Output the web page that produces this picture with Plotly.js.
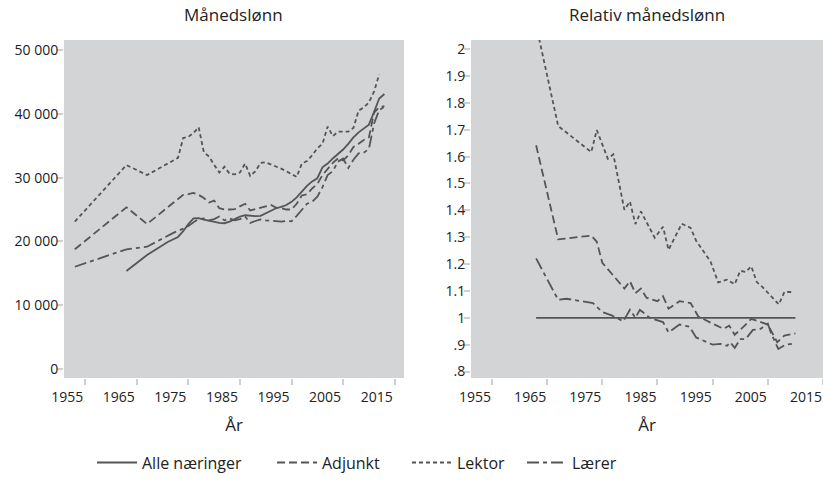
<!DOCTYPE html>
<html>
<head>
<meta charset="utf-8">
<script src="https://cdn.plot.ly/plotly-3.0.1.min.js"></script>
<style>html,body{margin:0;padding:0;background:#fff}#chart{width:823px;height:496px}</style>
</head>
<body>
<div id="chart"></div>
<script>
// ---- Left panel: Månedslønn (kroner) ----
const alleYears = [1963,1967,1971,1973,1974,1975,1976,1977,1978,1979,1980,1981,1982,1983,1984,1985,1986,1987,1988,1989,1990,1991,1992,1993,1994,1995,1996,1997,1998,1999,2000,2001,2002,2003,2004,2005,2006,2007,2008,2009,2010,2011,2012,2013];
const alleVals  = [15360,17870,19900,20700,21600,22700,23600,23650,23400,23200,23100,22900,22850,23100,23500,23900,24100,24000,23950,24000,24400,24800,25200,25400,25700,26200,26900,27800,28700,29400,29900,31600,32200,33000,33700,34400,35300,36300,37100,37700,38300,40300,42400,43100];

const lektorYears = [1953,1963,1967,1973,1974,1975,1976,1977,1978,1979,1980,1981,1982,1983,1984,1985,1986,1987,1988,1989,1990,1991,1992,1993,1994,1995,1996,1997,1998,1999,2000,2001,2002,2003,2004,2005,2006,2007,2008,2009,2010,2011,2012];
const lektorVals  = [23100,31970,30400,33100,36200,36400,37000,37900,34000,33300,32000,30800,31700,30600,30500,30800,32200,30250,31000,32300,32400,32100,31700,31400,31000,30600,30100,32200,32600,33500,34600,35300,38000,36500,37200,37200,37200,37800,40500,41000,41800,43500,46200];

const adjunktYears = [1953,1963,1967,1972,1974,1975,1976,1977,1978,1979,1980,1981,1982,1983,1984,1985,1986,1987,1988,1989,1990,1991,1992,1993,1994,1995,1996,1997,1998,1999,2000,2001,2002,2003,2004,2005,2006,2007,2008,2009,2010,2011,2012,2013];
const adjunktVals  = [18760,25340,22730,26000,27300,27400,27600,27300,26800,26100,26400,25200,25000,25000,25050,25500,25900,24850,25100,25300,25500,25700,25300,25200,25000,25000,25900,27200,27400,28300,29000,30400,31400,32300,33000,32700,33500,34800,35300,35900,36300,40200,41000,41200];

const laererYears = [1953,1963,1967,1972,1974,1975,1976,1977,1978,1979,1980,1981,1982,1983,1984,1985,1986,1987,1988,1989,1990,1991,1992,1993,1994,1995,1996,1997,1998,1999,2000,2001,2002,2003,2004,2005,2006,2007,2008,2009,2010,2011,2012,2013];
const laererVals  = [16030,18760,19170,21300,22000,22400,23000,23500,23600,23300,23500,23900,23300,23600,23300,23500,23900,22900,23200,23450,23300,23250,23200,23100,23200,23150,24000,25000,25900,26200,27000,28500,30400,31000,32500,33000,31500,32800,33800,33900,34500,38500,40600,41100];

// ---- Right panel: Relativ månedslønn ----
const refYears = [1963, 2010];
const refVals  = [1, 1];

const relLektorYears = [1963,1967,1973,1974,1976,1977,1979,1980,1981,1982,1984.5,1986,1987,1989.4,1991,1992,1994.6,1996,1997.6,1999,2000,2001,2002,2003,2004,2007,2008,2009.4];
const relLektorVals  = [2.09,1.714,1.617,1.699,1.592,1.608,1.402,1.433,1.349,1.396,1.298,1.339,1.253,1.350,1.335,1.287,1.21,1.132,1.142,1.125,1.175,1.171,1.192,1.133,1.115,1.05,1.096,1.096];

const relAdjunktYears = [1963,1967,1973,1974,1975,1979,1980,1981,1982,1983,1985,1986,1987,1989,1991,1992.4,1995,1997,1998,1999,2000.6,2002,2005,2006.7,2008,2010];
const relAdjunktVals  = [1.642,1.292,1.306,1.283,1.205,1.109,1.136,1.092,1.109,1.075,1.062,1.08,1.034,1.062,1.055,1.005,0.978,0.959,0.971,0.937,0.967,0.996,0.975,0.909,0.934,0.942];

const relLaererYears = [1963,1967,1968.5,1973.3,1975,1976.7,1978.8,1980,1981,1981.8,1983.6,1986,1987,1989,1990.8,1992,1995,1996.4,1997.6,1998.2,1999,2000,2001,2002.3,2003.7,2005,2005.6,2006.9,2008.2,2010];
const relLaererVals  = [1.221,1.067,1.071,1.055,1.021,1.009,0.987,1.03,1.0,1.03,1.0,0.984,0.946,0.975,0.967,0.927,0.9,0.903,0.896,0.909,0.888,0.921,0.921,0.955,0.959,0.978,0.942,0.884,0.9,0.905];

// ---- Tick labels ----
const xTickVals = [1955,1965,1975,1985,1995,2005,2015];
const xTickText = ['1955','1965','1975','1985','1995','2005','2015'];
const yLeftVals = [0,10000,20000,30000,40000,50000];
const yLeftText = ['0','10 000','20 000','30 000','40 000','50 000'];
const yRightVals = [0.8,0.9,1,1.1,1.2,1.3,1.4,1.5,1.6,1.7,1.8,1.9,2];
const yRightText = ['.8','.9','1','1.1','1.2','1.3','1.4','1.5','1.6','1.7','1.8','1.9','2'];

const seriesNames = ['Alle næringer','Adjunkt','Lektor','Lærer'];

const LC = '#555555';
const LW = 1.8;
const dashAlle = 'solid';
const dashAdj = '8px,4px';
const dashLek = '4px,3px';
const dashLae = '12px,4px,4px,4px';

const FONT = 'Open Sans, Noto Sans, DejaVu Sans, sans-serif';

const traces = [
  {x: alleYears, y: alleVals, name: seriesNames[0], mode:'lines', line:{color:LC,width:LW,dash:dashAlle}, xaxis:'x', yaxis:'y', legend:'legend'},
  {x: adjunktYears, y: adjunktVals, name: seriesNames[1], mode:'lines', line:{color:LC,width:LW,dash:dashAdj}, xaxis:'x', yaxis:'y', legend:'legend2'},
  {x: lektorYears, y: lektorVals, name: seriesNames[2], mode:'lines', line:{color:LC,width:LW,dash:dashLek}, xaxis:'x', yaxis:'y', legend:'legend3'},
  {x: laererYears, y: laererVals, name: seriesNames[3], mode:'lines', line:{color:LC,width:LW,dash:dashLae}, xaxis:'x', yaxis:'y', legend:'legend4'},
  {x: refYears, y: refVals, name: seriesNames[0], mode:'lines', line:{color:LC,width:LW,dash:dashAlle}, xaxis:'x2', yaxis:'y2', showlegend:false},
  {x: relAdjunktYears, y: relAdjunktVals, name: seriesNames[1], mode:'lines', line:{color:LC,width:LW,dash:dashAdj}, xaxis:'x2', yaxis:'y2', showlegend:false},
  {x: relLektorYears, y: relLektorVals, name: seriesNames[2], mode:'lines', line:{color:LC,width:LW,dash:dashLek}, xaxis:'x2', yaxis:'y2', showlegend:false},
  {x: relLaererYears, y: relLaererVals, name: seriesNames[3], mode:'lines', line:{color:LC,width:LW,dash:dashLae}, xaxis:'x2', yaxis:'y2', showlegend:false}
];

const W = 823;
const axCommon = {
  showgrid:false, zeroline:false, showline:false,
  ticks:'outside', ticklen:6, tickwidth:2, tickcolor:'#cfd0d2',
  tickfont:{family:FONT, size:14, color:'#222'}
};
function leg(xpx){
  return {orientation:'h', x:xpx/W, xanchor:'left', y:-0.2, yanchor:'top',
          font:{family:FONT, size:16, color:'#222'}, itemwidth:40, bgcolor:'rgba(0,0,0,0)'};
}

const layout = {
  width: W, height: 496,
  margin:{l:0, r:0, t:40, b:118},
  paper_bgcolor:'#ffffff',
  plot_bgcolor:'#d3d4d6',
  font:{family:FONT, color:'#222'},
  showlegend:true,
  legend: leg(92), legend2: leg(272), legend3: leg(407), legend4: leg(522),
  xaxis: Object.assign({}, axCommon, {
    domain:[64/W, 404/W], range:[1950.9, 2016.8],
    tickvals:xTickVals, ticktext:xTickText, ticklabelshift:-18,
    title:{text:'År', font:{family:FONT, size:17, color:'#222'}, standoff:14},
    anchor:'y'
  }),
  yaxis: Object.assign({}, axCommon, {
    domain:[0,1], range:[-1410, 51570], ticklabelstandoff:-4,
    tickvals:yLeftVals, ticktext:yLeftText, anchor:'x'
  }),
  xaxis2: Object.assign({}, axCommon, {
    domain:[471/W, 1], range:[1951.2, 2015.0],
    tickvals:xTickVals, ticktext:xTickText, ticklabelshift:-17,
    title:{text:'År', font:{family:FONT, size:17, color:'#222'}, standoff:14},
    anchor:'y2'
  }),
  yaxis2: Object.assign({}, axCommon, {
    domain:[0,1], range:[0.776, 2.034], ticklabelstandoff:-4,
    tickvals:yRightVals, ticktext:yRightText, anchor:'x2'
  }),
  annotations:[
    {text:'Månedslønn', xref:'paper', yref:'paper', x:(64+404)/2/W, y:1, xanchor:'center', yanchor:'bottom', showarrow:false, yshift:12, font:{family:FONT, size:17, color:'#222'}},
    {text:'Relativ månedslønn', xref:'paper', yref:'paper', x:(471+823)/2/W, y:1, xanchor:'center', yanchor:'bottom', showarrow:false, yshift:12, font:{family:FONT, size:17, color:'#222'}}
  ]
};

Plotly.newPlot('chart', traces, layout, {staticPlot:true, displayModeBar:false});
</script>
</body>
</html>
